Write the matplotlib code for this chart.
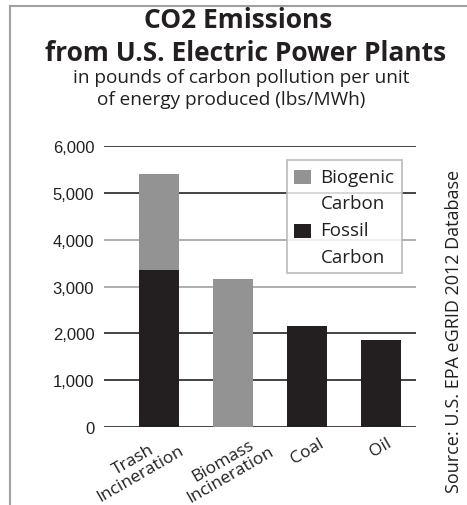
import matplotlib
matplotlib.use('Agg')
import matplotlib.pyplot as plt
from matplotlib.lines import Line2D
from matplotlib.patches import Rectangle
from matplotlib.legend_handler import HandlerPatch
import numpy as np

# data (lbs/MWh)
categories = ['Trash\nIncineration', 'Biomass\nIncineration', 'Coal', 'Oil']
fossil = [3350, 0, 2150, 1860]
biogenic = [2050, 3160, 0, 0]
yticks = [0, 1000, 2000, 3000, 4000, 5000, 6000]

black = '#231f20'
grey = '#939393'
txt = '#231f20'
sans = ['Open Sans', 'DejaVu Sans']

fig = plt.figure(figsize=(4.67, 5.06), dpi=100)
ax = fig.add_axes([0.2227, 0.154, 0.668, 0.5555])

x = np.arange(len(categories))
w = 0.54
# grid lines (the 3,000 and 4,000 ones are lighter in the original)
for t in yticks:
    c = '#9a9a9a' if t in (3000, 4000) else '#111111'
    ax.axhline(t, color=c, lw=1.1, zorder=0)

b_fos = ax.bar(x, fossil, w, color=black, zorder=2)
b_bio = ax.bar(x, biogenic, w, bottom=fossil, color=grey, zorder=2)

ax.set_xlim(-0.74, 3.47)
ax.set_ylim(0, 6000)
ax.set_yticks(yticks)
ax.set_yticklabels([f'{t:,}' for t in yticks], family='Liberation Sans', fontsize=12, color=txt)
ax.set_xticks(x)
ax.set_xticklabels([])
ax.tick_params(length=0, pad=7)
for s in ax.spines.values():
    s.set_visible(False)

# rotated category labels, nudged like the original (centre offsets in px)
lab_off = [(-22, -39), (-6, -40), (0, -24), (0, -20)]
for i, name in enumerate(categories):
    ax.annotate(name, xy=(x[i], 0), xycoords=('data', 'axes fraction'),
                xytext=lab_off[i], textcoords='offset pixels',
                ha='center', va='center', rotation=30, rotation_mode='anchor',
                multialignment='center', linespacing=0.95,
                family=sans, fontsize=12.5, color=txt, annotation_clip=False)


def top_patch(legend, orig_handle, xdescent, ydescent, width, height, fontsize):
    # square sits level with the first line of the two-line label
    return Rectangle((-xdescent, -ydescent + 9.5), width, height)


leg = ax.legend([b_bio.patches[0], b_fos.patches[0]], ['Biogenic\nCarbon', 'Fossil\nCarbon'],
                loc='upper right', bbox_to_anchor=(0.955, 0.95),
                borderaxespad=0, prop={'family': sans, 'size': 13.5}, frameon=True,
                fancybox=False, edgecolor='#b5b5b5', handlelength=0.9, handleheight=0.75,
                handletextpad=0.5, labelspacing=0.5, borderpad=0.4,
                handler_map={Rectangle: HandlerPatch(patch_func=top_patch)})
leg.get_frame().set_linewidth(1.4)
for t in leg.get_texts():
    t.set_color(txt)
    t.set_linespacing(1.6)

fig.text(0.509, 0.960, 'CO2 Emissions', ha='center', va='center',
         family=sans, fontsize=19, fontweight='bold', color=txt)
fig.text(0.526, 0.895, 'from U.S. Electric Power Plants', ha='center', va='center',
         family=sans, fontsize=19, fontweight='bold', color=txt)
fig.text(0.5175, 0.846, 'in pounds of carbon pollution per unit', ha='center', va='center',
         family=sans, fontsize=13.7, color=txt)
fig.text(0.496, 0.802, 'of energy produced (lbs/MWh)', ha='center', va='center',
         family=sans, fontsize=13.7, color=txt)
fig.text(0.972, 0.344, 'Source: U.S. EPA eGRID 2012 Database', ha='center', va='center',
         rotation=90, family=sans, fontsize=13, color=txt)

# frame lines on top and left
fig.add_artist(Line2D([0.022, 1.0], [0.986, 0.986], color='#a0a0a0', lw=1.5))
fig.add_artist(Line2D([0.022, 0.022], [0.0, 0.986], color='#a0a0a0', lw=1.5))

fig.savefig('out.png', dpi=100)
